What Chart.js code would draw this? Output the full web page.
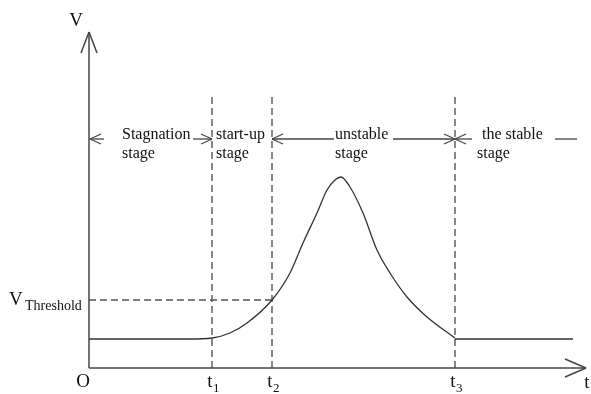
<!DOCTYPE html>
<html>
<head>
<meta charset="utf-8">
<script src="https://cdn.jsdelivr.net/npm/chart.js@4/dist/chart.umd.min.js"></script>
<style>
  html, body { margin: 0; padding: 0; background: #fff; }
  #wrap { width: 591px; height: 394px; position: relative; }
</style>
</head>
<body>
<div id="wrap"><canvas id="c"></canvas></div>
<script>
// ---- data (schematic units) ----
const curveX = [0, 101, 123, 141, 158, 183, 201, 214, 228, 238, 246, 252, 261, 274, 288, 301, 318, 338, 366];
const curveY = [29, 29, 30, 35, 45, 68, 95, 125, 155, 178, 188, 191, 181, 155, 118, 95, 71, 51, 30];
const stableX = [366, 484];
const stableY = [29, 29];
const timeMarks = [123, 183, 366];
const timeSubs = ['1', '2', '3'];
const thresholdV = 68;
const dashTop = 272;
const stageNames = [['Stagnation', 'stage'], ['start-up', 'stage'], ['unstable', 'stage'], ['the stable', 'stage']];
const axisMax = { x: 497, y: 336 };

const pts = (xs, ys) => xs.map((x, i) => ({ x: x, y: ys[i] }));
const dashStyle = { borderColor: '#555', borderWidth: 1.4, borderDash: [7, 4], pointRadius: 0, fill: false, tension: 0 };

const datasets = [
  { data: pts(curveX, curveY), borderColor: '#333', borderWidth: 1.3, pointRadius: 0, fill: false, cubicInterpolationMode: 'monotone' },
  { data: pts(stableX, stableY), borderColor: '#333', borderWidth: 1.3, pointRadius: 0, fill: false },
  Object.assign({ data: [{ x: 0, y: thresholdV }, { x: timeMarks[1], y: thresholdV }] }, dashStyle)
];
timeMarks.forEach(t => datasets.push(Object.assign({ data: [{ x: t, y: 0 }, { x: t, y: dashTop }] }, dashStyle)));

const SERIF = '"Liberation Serif", "Times New Roman", serif';

const drawPlugin = {
  id: 'schematic',
  afterDatasetsDraw(chart) {
    const ctx = chart.ctx;
    const xs = chart.scales.x, ys = chart.scales.y;
    const X = v => xs.getPixelForValue(v), Y = v => ys.getPixelForValue(v);
    const x0 = X(0), y0 = Y(0), xEnd = X(axisMax.x), yEnd = Y(axisMax.y);
    ctx.save();
    ctx.strokeStyle = '#444';
    ctx.lineWidth = 1.5;
    const line = (a, b, c, d) => { ctx.beginPath(); ctx.moveTo(a, b); ctx.lineTo(c, d); ctx.stroke(); };
    // axes
    line(x0, y0, x0, yEnd);
    line(x0, y0, xEnd, y0);
    line(x0, yEnd, x0 - 8, yEnd + 21);
    line(x0, yEnd, x0 + 8, yEnd + 21);
    line(xEnd, y0, xEnd - 21, y0 - 9);
    line(xEnd, y0, xEnd - 21, y0 + 9);

    // stage arrows
    ctx.strokeStyle = '#444';
    ctx.lineWidth = 1.3;
    const ay = 139;
    const head = (x, dir) => { line(x, ay, x - dir * 11, ay - 5); line(x, ay, x - dir * 11, ay + 5); };
    const t1 = X(timeMarks[0]), t2 = X(timeMarks[1]), t3 = X(timeMarks[2]);
    line(x0 + 1, ay, x0 + 15, ay); head(x0 + 1, -1);
    line(t1 - 19, ay, t1, ay); head(t1, 1);
    line(t2, ay, t2 + 62, ay); head(t2, -1);
    line(t3 - 62, ay, t3, ay); head(t3, 1);
    line(t3, ay, t3 + 17, ay); head(t3, -1);
    line(xEnd - 31, ay, xEnd - 9, ay);

    // stage text
    ctx.fillStyle = '#111';
    ctx.font = '16px ' + SERIF;
    ctx.textBaseline = 'middle';
    ctx.textAlign = 'left';
    const stageLeft = [[x0 + 33, x0 + 33], [t1 + 4, t1 + 4], [t2 + 63, t2 + 63], [t3 + 27, t3 + 22]];
    stageNames.forEach((s, i) => {
      ctx.fillText(s[0], stageLeft[i][0], 135);
      ctx.fillText(s[1], stageLeft[i][1], 154);
    });

    // axis labels
    ctx.font = '19px ' + SERIF;
    ctx.textAlign = 'center';
    ctx.fillText('V', x0 - 13, 21);
    ctx.fillText('O', x0 - 6, 382);
    ctx.fillText('t', xEnd + 1, 383);
    // time marks
    timeMarks.forEach((t, i) => {
      const px = X(t);
      ctx.font = '19px ' + SERIF;
      ctx.textAlign = 'center';
      ctx.fillText('t', px - 2, 382);
      ctx.font = '13px ' + SERIF;
      ctx.textAlign = 'left';
      ctx.fillText(timeSubs[i], px + 1, 389);
    });
    // threshold label
    ctx.font = '19px ' + SERIF;
    ctx.textAlign = 'left';
    const ty = Y(thresholdV);
    ctx.fillText('V', 9, ty);
    ctx.font = '14px ' + SERIF;
    ctx.fillText('Threshold', 25, ty + 6);
    ctx.restore();
  }
};

new Chart(document.getElementById('c'), {
  type: 'line',
  data: { datasets: datasets },
  options: {
    responsive: true,
    maintainAspectRatio: false,
    animation: false,
    layout: { padding: { left: 89, right: 5, top: 32, bottom: 26 } },
    plugins: { legend: { display: false }, tooltip: { enabled: false } },
    scales: {
      x: { type: 'linear', min: 0, max: axisMax.x, display: false },
      y: { type: 'linear', min: 0, max: axisMax.y, display: false }
    }
  },
  plugins: [drawPlugin]
});
</script>
</body>
</html>
